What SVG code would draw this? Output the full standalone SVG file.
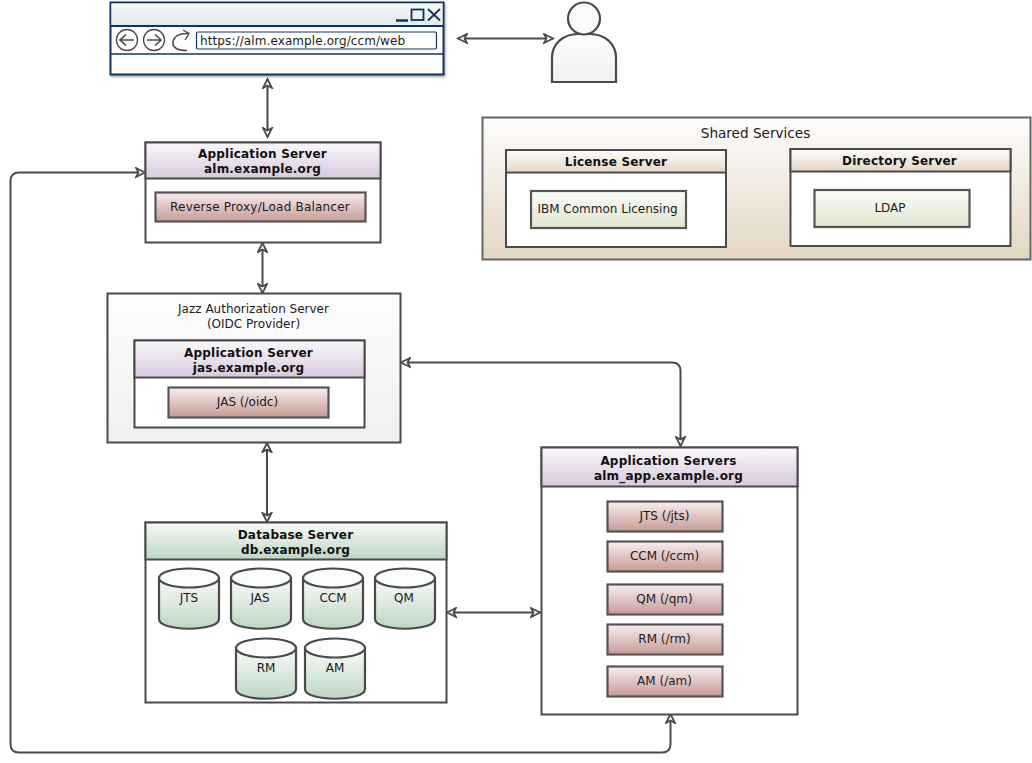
<svg xmlns="http://www.w3.org/2000/svg" width="1032" height="763" viewBox="0 0 1032 763">
<style>
text{font-family:"DejaVu Sans",sans-serif;font-size:12px;fill:#1c1c1c;text-anchor:middle}
.b{font-weight:bold;font-size:12px;letter-spacing:.2px;fill:#111}
.box{stroke:#4a4a4a;stroke-width:2;fill:#fff}
.in{stroke:#555;stroke-width:2.2}
.conn{fill:none;stroke:#4a4a4a;stroke-width:2;marker-start:url(#ah);marker-end:url(#ah)}
.navy{stroke:#0f3564;fill:none}
.cyl{stroke:#4a4a4a;stroke-width:2.2;fill:url(#green)}
.top{stroke:#4a4a4a;stroke-width:2.2;fill:#fbfdfb}
</style>
<defs>
<marker id="ah" markerWidth="14" markerHeight="12" refX="10" refY="6" orient="auto-start-reverse" markerUnits="userSpaceOnUse">
<path d="M1 1.5L10 6L1 10.5L3.5 6Z" fill="#fff" stroke="#4a4a4a" stroke-width="1.8"/>
</marker>
<linearGradient id="purple" x1="0" y1="0" x2="0" y2="1"><stop offset="0" stop-color="#faf8fb"/><stop offset="1" stop-color="#d9c8df"/></linearGradient>
<linearGradient id="red" x1="0" y1="0" x2="0" y2="1"><stop offset="0" stop-color="#f8eeee"/><stop offset="1" stop-color="#c79a94"/></linearGradient>
<linearGradient id="green" x1="0" y1="0" x2="0" y2="1"><stop offset="0" stop-color="#f9fbf9"/><stop offset="1" stop-color="#bcd7c2"/></linearGradient>
<linearGradient id="olive" x1="0" y1="0" x2="0" y2="1"><stop offset="0" stop-color="#fbfcf9"/><stop offset="1" stop-color="#e0e6cf"/></linearGradient>
<linearGradient id="tan" x1="0" y1="0" x2="0" y2="1"><stop offset="0" stop-color="#fefdfc"/><stop offset="1" stop-color="#e3d6c3"/></linearGradient>
<linearGradient id="grey" x1="0" y1="0" x2="0" y2="1"><stop offset="0" stop-color="#fdfdfd"/><stop offset="1" stop-color="#f0f0f0"/></linearGradient>
<linearGradient id="bar" x1="0" y1="0" x2="0" y2="1"><stop offset="0" stop-color="#f7f9fa"/><stop offset="1" stop-color="#e3e8ec"/></linearGradient>
<filter id="sh" x="-5%" y="-10%" width="110%" height="125%"><feDropShadow dx="1" dy="1.5" stdDeviation="1.2" flood-color="#000" flood-opacity=".35"/></filter>
</defs>

<g id="connectors">
<path class="conn" d="M458 38.500H553"/>
<path class="conn" d="M267.500 79V137"/>
<path class="conn" d="M262.500 243V293"/>
<path class="conn" d="M267 443V522"/>
<path class="conn" d="M401 362.500H672Q680.500 362.500 680.500 371V446"/>
<path class="conn" d="M447 612.500H540"/>
<path class="conn" d="M145 172.500H19Q10.500 172.500 10.500 181V744Q10.500 752.500 19 752.500H662Q670.500 752.500 670.500 744V714"/>
</g>

<g id="browser">
<rect x="110.500" y="2.500" width="333" height="72" fill="#fff" stroke="#0f3564" stroke-width="2" filter="url(#sh)"/>
<rect x="111.500" y="3.500" width="331" height="22" fill="url(#bar)"/>
<path class="navy" stroke-width="2" d="M110.500 26H443.500"/>
<path class="navy" stroke-width="1.300" d="M110.500 54H443.500"/>
<path d="M396 20.500H408" fill="none" stroke="#0f3564" stroke-width="2.500"/>
<rect class="navy" stroke-width="1.800" x="411.500" y="9.500" width="12" height="10.500"/>
<path class="navy" stroke-width="1.800" d="M428 9L440 20.500M440 9L428 20.500"/>
<g fill="#fff" stroke="#4a4a4a" stroke-width="1.300">
<circle cx="127" cy="40" r="10.500"/><circle cx="154" cy="40" r="10.500"/>
</g>
<path d="M134 40H120M126 34.500L120 40L126 45.500M147 40H161M155 34.500L161 40L155 45.500" fill="none" stroke="#4a4a4a" stroke-width="1.600"/>
<path d="M189 33.500C178 33 173 37 173 43C173 47.500 177 50.500 187 50.500" fill="none" stroke="#4a4a4a" stroke-width="1.600"/>
<path d="M183 30L189 33.500L185 40" fill="none" stroke="#4a4a4a" stroke-width="1.400"/>
<rect x="196.500" y="32" width="240" height="17" rx="1.500" fill="#fff" stroke="#0f3564" stroke-width="1.200"/>
<text x="200" y="45" style="text-anchor:start;letter-spacing:.1px">https://alm.example.org/ccm/web</text>
</g>

<g id="user">
<path d="M552 82V58C552 43 564 34 578 34H590C604 34 616 43 616 58V82Z" fill="url(#grey)" stroke="#4a4a4a" stroke-width="2.200"/>
<circle cx="584" cy="18.500" r="16" fill="#fafafa" stroke="#4a4a4a" stroke-width="2.200"/>
</g>

<g id="shared-services">
<rect x="482.500" y="117.500" width="548" height="142" fill="url(#tan)" stroke="#666" stroke-width="2"/>
<text x="755.500" y="137.500" style="font-size:13.600px">Shared Services</text>
</g>
<g id="license-server">
<rect class="box" x="506" y="150" width="220" height="97"/>
<rect x="506" y="150" width="220" height="22.500" fill="url(#tan)" stroke="#4a4a4a" stroke-width="2"/>
<text class="b" x="616" y="166">License Server</text>
<rect class="in" x="531" y="191" width="155" height="37" fill="url(#olive)"/>
<text x="607.500" y="213">IBM Common Licensing</text>
</g>
<g id="directory-server">
<rect class="box" x="790.500" y="149" width="220" height="97"/>
<rect x="790.500" y="149" width="220" height="22.500" fill="url(#tan)" stroke="#4a4a4a" stroke-width="2"/>
<text class="b" x="899.500" y="165">Directory Server</text>
<rect class="in" x="814.500" y="190" width="155" height="37" fill="url(#olive)"/>
<text x="890" y="212">LDAP</text>
</g>

<g id="proxy-server">
<rect class="box" x="145.500" y="142.500" width="235" height="100"/>
<rect x="145.500" y="142.500" width="235" height="36" fill="url(#purple)" stroke="#4a4a4a" stroke-width="2"/>
<text class="b" x="262.500" y="158">Application Server</text>
<text class="b" x="262.500" y="173">alm.example.org</text>
<rect class="in" x="155.500" y="192.500" width="210" height="29" fill="url(#red)"/>
<text x="260" y="211" style="letter-spacing:.2px">Reverse Proxy/Load Balancer</text>
</g>

<g id="jas-server">
<rect x="107.500" y="293.500" width="293" height="149" fill="url(#grey)" stroke="#4a4a4a" stroke-width="2"/>
<text x="253.500" y="313">Jazz Authorization Server</text>
<text x="253.500" y="328">(OIDC Provider)</text>
<rect class="box" x="134.500" y="340.500" width="230" height="87"/>
<rect x="134.500" y="340.500" width="230" height="37" fill="url(#purple)" stroke="#4a4a4a" stroke-width="2"/>
<text class="b" x="248.500" y="357">Application Server</text>
<text class="b" x="248.500" y="372">jas.example.org</text>
<rect class="in" x="168.500" y="387.500" width="160" height="30" fill="url(#red)"/>
<text x="247.500" y="406">JAS (/oidc)</text>
</g>

<g id="database-server">
<rect class="box" x="145.500" y="522.500" width="301" height="180"/>
<rect x="145.500" y="522.500" width="301" height="37" fill="url(#green)" stroke="#4a4a4a" stroke-width="2"/>
<text class="b" x="295.500" y="539">Database Server</text>
<text class="b" x="295.500" y="554">db.example.org</text>
<g id="db-jts"><path class="cyl" d="M159 578V619C159 632 219 632 219 619V578Z"/><ellipse class="top" cx="189" cy="578" rx="30" ry="9.500"/><text x="189" y="602">JTS</text></g>
<g id="db-jas"><path class="cyl" d="M231 578V619C231 632 291 632 291 619V578Z"/><ellipse class="top" cx="261" cy="578" rx="30" ry="9.500"/><text x="260" y="602">JAS</text></g>
<g id="db-ccm"><path class="cyl" d="M303 578V619C303 632 363 632 363 619V578Z"/><ellipse class="top" cx="333" cy="578" rx="30" ry="9.500"/><text x="333" y="602">CCM</text></g>
<g id="db-qm"><path class="cyl" d="M375 578V619C375 632 435 632 435 619V578Z"/><ellipse class="top" cx="405" cy="578" rx="30" ry="9.500"/><text x="404" y="602">QM</text></g>
<g id="db-rm"><path class="cyl" d="M236 648V689C236 702 296 702 296 689V648Z"/><ellipse class="top" cx="266" cy="648" rx="30" ry="9.500"/><text x="266" y="672">RM</text></g>
<g id="db-am"><path class="cyl" d="M305 648V689C305 702 365 702 365 689V648Z"/><ellipse class="top" cx="335" cy="648" rx="30" ry="9.500"/><text x="335" y="672">AM</text></g>
</g>

<g id="application-servers">
<rect class="box" x="541.500" y="447.500" width="256" height="267"/>
<rect x="541.500" y="447.500" width="256" height="39" fill="url(#purple)" stroke="#4a4a4a" stroke-width="2"/>
<text class="b" x="668.500" y="465">Application Servers</text>
<text class="b" x="668.500" y="480">alm_app.example.org</text>
<g id="app-jts"><rect class="in" x="607.500" y="501.500" width="115" height="30" fill="url(#red)"/><text x="664.500" y="520">JTS (/jts)</text></g>
<g id="app-ccm"><rect class="in" x="607.500" y="541.500" width="115" height="30" fill="url(#red)"/><text x="664.500" y="560">CCM (/ccm)</text></g>
<g id="app-qm"><rect class="in" x="607.500" y="584.500" width="115" height="30" fill="url(#red)"/><text x="664.500" y="603">QM (/qm)</text></g>
<g id="app-rm"><rect class="in" x="607.500" y="624.500" width="115" height="30" fill="url(#red)"/><text x="664.500" y="643">RM (/rm)</text></g>
<g id="app-am"><rect class="in" x="607.500" y="666.500" width="115" height="30" fill="url(#red)"/><text x="664.500" y="685">AM (/am)</text></g>
</g>
</svg>
